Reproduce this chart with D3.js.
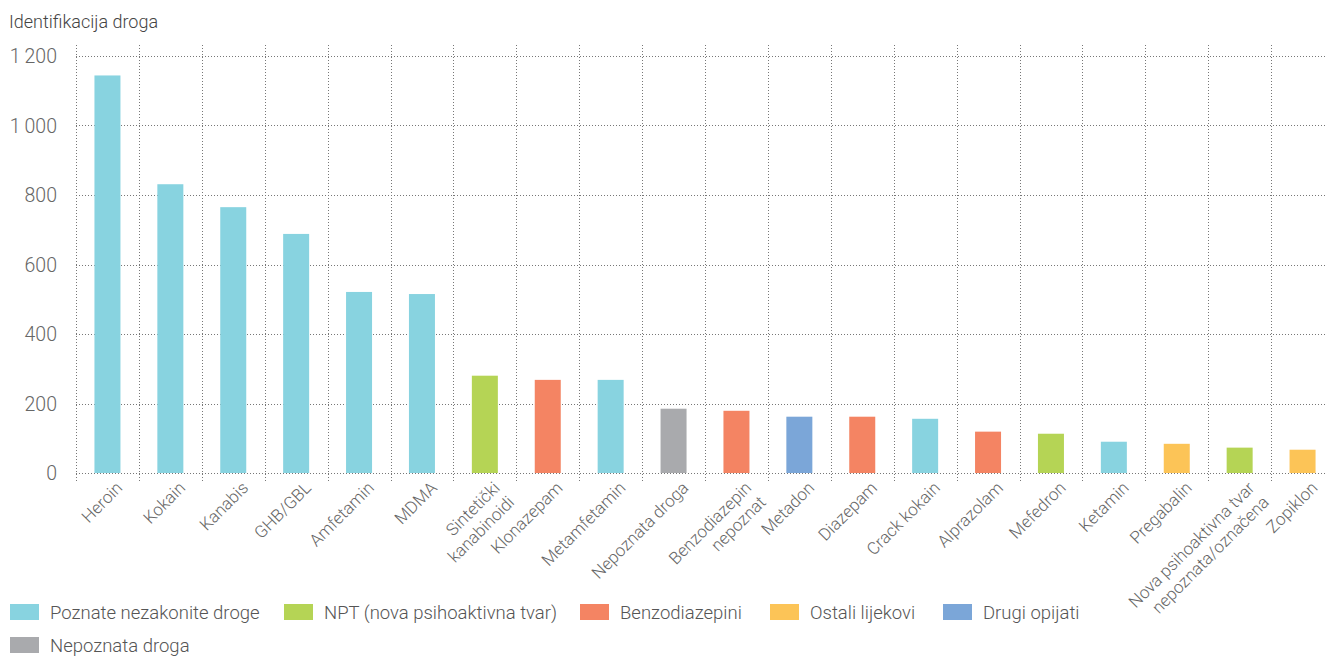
<!DOCTYPE html>
<html><head><meta charset="utf-8">
<script src="https://cdn.jsdelivr.net/npm/d3@7"></script>
<style>body{margin:0;background:#fff}svg{display:block;font-family:Roboto,"Open Sans",sans-serif}</style>
</head><body><svg id="c" width="1327" height="657"></svg>
<script>
const categories = ["Heroin","Kokain","Kanabis","GHB/GBL","Amfetamin","MDMA","Sintetički\nkanabinoidi","Klonazepam","Metamfetamin","Nepoznata droga","Benzodiazepin\nnepoznat","Metadon","Diazepam","Crack kokain","Alprazolam","Mefedron","Ketamin","Pregabalin","Nova psihoaktivna tvar\nnepoznata/označena","Zopiklon"];
const values = [1144,831,765,688,521,515,280,268,268,185,179,162,162,156,119,113,90,84,73,67];
const groups = [0,0,0,0,0,0,1,2,0,5,2,4,2,0,2,1,0,3,1,3];
const groupNames = ["Poznate nezakonite droge","NPT (nova psihoaktivna tvar)","Benzodiazepini","Ostali lijekovi","Drugi opijati","Nepoznata droga"];
const groupColors = ["#88D3E0","#B5D455","#F48463","#FCC457","#7BA6D8","#A9AAAD"];
const yTicks = [0,200,400,600,800,1000,1200];
const title = "Identifikacija droga";

const svg = d3.select("#c");
const x0 = 76, x1 = 1334, yBase = 473, yTop = 56;
const x = d3.scaleBand().domain(categories).range([x0, x1]).paddingInner(0).paddingOuter(0);
const y = d3.scaleLinear().domain([0,1200]).range([yBase, yTop]);
const bw = 26;
const fmt = v => d3.format(",")(v).replace(/,/g, "\u2009");
const txt = "#666";

svg.append("text").attr("x",9).attr("y",28).attr("font-size",18).attr("font-weight",300).attr("fill","#444").text(title);

// horizontal grid
svg.append("g").selectAll("line").data(yTicks).join("line")
  .attr("x1",x0).attr("x2",1327).attr("y1",d=>Math.round(y(d))+0.5).attr("y2",d=>Math.round(y(d))+0.5)
  .attr("stroke","#777").attr("stroke-dasharray","1,2");
// vertical grid
const bounds = categories.map(c=>x(c));
svg.append("g").selectAll("line").data(bounds).join("line")
  .attr("x1",d=>Math.round(d)+0.5).attr("x2",d=>Math.round(d)+0.5).attr("y1",45).attr("y2",481)
  .attr("stroke","#777").attr("stroke-dasharray","1,2");

// y labels
svg.append("g").selectAll("text").data(yTicks).join("text")
  .attr("x",57).attr("y",d=>y(d)+7).attr("text-anchor","end").attr("font-size",19.5).attr("font-weight",300)
  .attr("fill",txt).text(d=>fmt(d));

// bars
svg.append("g").selectAll("rect").data(categories).join("rect")
  .attr("x",(d)=>x(d)+x.bandwidth()/2-bw/2).attr("width",bw)
  .attr("y",(d,i)=>y(values[i])).attr("height",(d,i)=>yBase-y(values[i]))
  .attr("fill",(d,i)=>groupColors[groups[i]]);

// x labels
const xl = svg.append("g").selectAll("text").data(categories).join("text")
  .attr("transform",d=>`translate(${x(d)+x.bandwidth()/2+16},${489}) rotate(-45)`)
  .attr("text-anchor","end").attr("font-size",17).attr("font-weight",300).attr("fill",txt);
xl.each(function(d){
  const lines = d.split("\n");
  const t = d3.select(this);
  lines.forEach((l,i)=>t.append("tspan").attr("x",0).attr("dy",i===0?0:"1.2em").text(l));
});

// legend
const legPos = [[10,612],[284,612],[580,612],[770,612],[943,612],[10,645]];
const lg = svg.append("g").selectAll("g").data(groupNames).join("g")
  .attr("transform",(d,i)=>`translate(${legPos[i][0]},${legPos[i][1]})`);
lg.append("rect").attr("x",0).attr("y",-8).attr("width",29).attr("height",16).attr("fill",(d,i)=>groupColors[i]);
lg.append("text").attr("x",40).attr("y",6.5).attr("font-size",18.5).attr("font-weight",300).attr("fill","#555").text(d=>d);
</script></body></html>
